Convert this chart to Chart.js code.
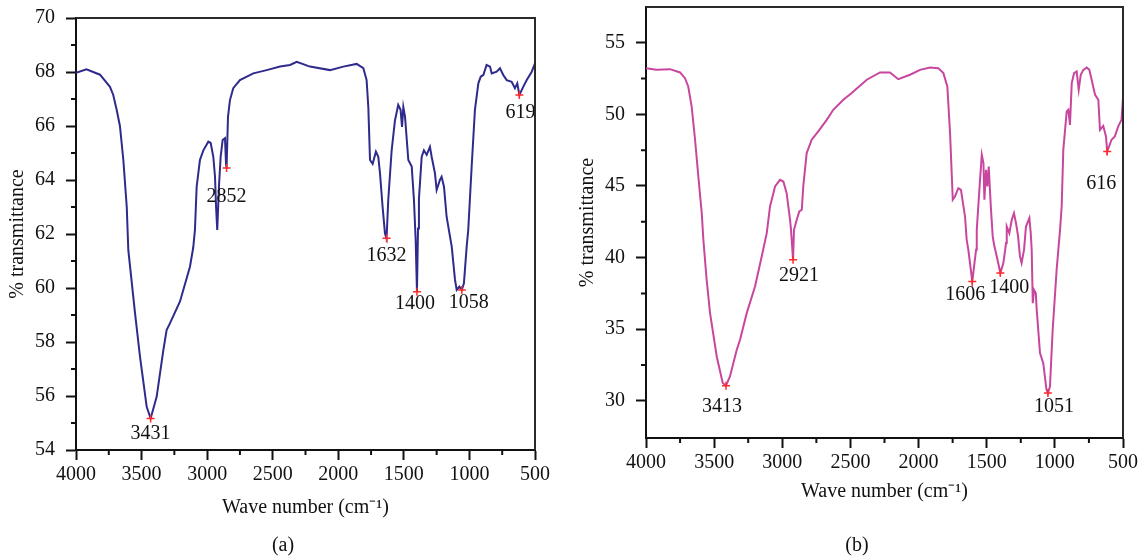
<!DOCTYPE html>
<html>
<head>
<meta charset="utf-8">
<script src="https://cdn.jsdelivr.net/npm/chart.js@4"></script>
<style>
  body { margin: 0; background: #fff; }
  canvas { position: absolute; top: 0; }
  #chart-a { left: 0; }
  #chart-b { left: 570px; }
</style>
</head>
<body>
<canvas id="chart-a" width="566" height="560"></canvas>
<canvas id="chart-b" width="574" height="560"></canvas>
<script>
// Espectros FTIR (a) e (b)

const waveA = [4000, 3920, 3817, 3741, 3716, 3690, 3665, 3639, 3613, 3601, 3550, 3512, 3461, 3431, 3385, 3334, 3309, 3283, 3207, 3131,
  3106, 3093, 3080, 3055, 3029, 2991, 2973, 2953, 2940, 2932, 2923, 2910, 2897, 2882, 2864, 2856, 2852, 2841, 2826, 2801,
  2750, 2648, 2546, 2444, 2368, 2317, 2216, 2063, 1962, 1860, 1809, 1784, 1771, 1758, 1738, 1713, 1695, 1682, 1662, 1644,
  1632, 1619, 1593, 1568, 1543, 1525, 1514, 1504, 1491, 1466, 1440, 1423, 1410, 1400, 1392, 1385, 1364, 1347, 1326, 1301,
  1288, 1263, 1250, 1225, 1212, 1194, 1174, 1148, 1135, 1110, 1097, 1077, 1058, 1042, 1021, 1009, 983, 958, 932, 914,
  894, 869, 843, 830, 792, 767, 742, 716, 678, 653, 635, 619, 589, 563, 525, 500];
const transA = [67.97, 68.1, 67.9, 67.45, 67.15, 66.6, 66.0, 64.74, 63.0, 61.4, 59.07, 57.46, 55.6, 55.17, 55.97, 57.7, 58.44, 58.7, 59.5, 60.79,
  61.5, 62.15, 63.75, 64.74, 65.1, 65.42, 65.37, 64.86, 64.12, 63.0, 62.15, 63.75, 64.86, 65.48, 65.55, 64.6, 64.44, 66.34, 66.96, 67.4,
  67.7, 67.95, 68.07, 68.2, 68.26, 68.38, 68.2, 68.07, 68.2, 68.3, 68.14, 67.7, 66.7, 64.74, 64.6, 65.05, 64.86, 64.25, 63.0, 62.02,
  61.84, 63.26, 65.1, 66.2, 66.78, 66.6, 65.97, 66.7, 66.34, 64.74, 64.5, 63.26, 61.78, 59.86, 62.2, 63.3, 64.86, 65.1, 64.93, 65.23,
  64.86, 64.25, 63.63, 64.0, 64.12, 63.75, 62.64, 61.9, 61.53, 60.3, 59.93, 60.05, 59.93, 60.17, 61.53, 62.15, 64.5, 66.6, 67.58, 67.83,
  67.89, 68.26, 68.2, 67.95, 68.01, 68.14, 67.89, 67.7, 67.64, 67.4, 67.58, 67.15, 67.46, 67.7, 68.01, 68.32];
const picosA = [3431, 2852, 1632, 1400, 1058, 619];
const picosTransA = [55.17, 64.44, 61.84, 59.86, 59.93, 67.15];

const waveB = [4000, 3922, 3824, 3750, 3714, 3690, 3665, 3640, 3616, 3591, 3579, 3555, 3530, 3481, 3437, 3413, 3384, 3334, 3310, 3261,
  3200, 3151, 3114, 3090, 3053, 3017, 2992, 2968, 2943, 2936, 2921, 2914, 2894, 2875, 2857, 2846, 2821, 2784, 2736, 2674,
  2626, 2552, 2491, 2430, 2380, 2283, 2210, 2149, 2063, 1989, 1916, 1855, 1818, 1789, 1769, 1749, 1733, 1708, 1689, 1659,
  1647, 1635, 1606, 1578, 1573, 1549, 1536, 1524, 1517, 1505, 1495, 1485, 1470, 1456, 1446, 1426, 1400, 1378, 1358, 1353,
  1334, 1316, 1300, 1285, 1270, 1256, 1244, 1226, 1212, 1187, 1177, 1170, 1162, 1153, 1140, 1133, 1109, 1085, 1062, 1051,
  1036, 1016, 987, 962, 950, 938, 913, 901, 889, 876, 859, 840, 825, 810, 791, 766, 747, 730, 705, 681,
  669, 645, 625, 616, 584, 560, 535, 511, 500];
const transB = [53.23, 53.11, 53.16, 52.93, 52.53, 51.95, 50.55, 48.23, 45.66, 43.1, 41.24, 38.45, 36.12, 33.09, 31.24, 31.05, 31.7, 33.56, 34.26, 36.12,
  37.98, 40.08, 41.71, 43.57, 44.97, 45.43, 45.31, 44.5, 42.64, 41.94, 39.85, 41.94, 42.64, 43.22, 43.34, 44.97, 47.3, 48.23, 48.81, 49.62,
  50.32, 51.02, 51.49, 52.0, 52.42, 52.93, 52.93, 52.46, 52.77, 53.11, 53.28, 53.23, 52.88, 51.95, 48.7, 44.04, 44.27, 44.85, 44.73, 42.87,
  41.24, 40.55, 38.33, 40.55, 41.94, 45.43, 47.18, 46.6, 44.04, 46.13, 44.97, 46.36, 43.57, 41.48, 40.9, 40.08, 38.92, 39.62, 41.01, 42.17,
  41.71, 42.64, 43.1, 42.41, 41.5, 40.08, 39.62, 40.55, 42.17, 42.76, 41.71, 40.55, 36.82, 37.75, 37.52, 36.35, 33.33, 32.63, 30.8, 30.54,
  31.0, 34.96, 39.15, 41.94, 43.57, 47.53, 50.2, 50.32, 49.27, 52.19, 52.88, 53.0, 51.72, 52.77, 53.11, 53.28, 53.11, 52.42, 51.37, 51.02,
  48.92, 49.2, 48.46, 47.41, 48.23, 48.46, 49.16, 49.62, 51.14];
const picosB = [3413, 2921, 1606, 1400, 1051, 616];
const picosTransB = [31.05, 39.85, 38.33, 38.92, 30.54, 47.41];

// deslocamento dos rótulos dos picos (px)
const rotuloDxA = [0, 0, 0, -2, 7, 1];
const rotuloDyA = [15, 29, 17, 12, 13, 18];
const rotuloDxB = [-4, 6, -7, 9, 6, -6];
const rotuloDyB = [21, 16, 13, 15, 14, 32];

Chart.defaults.font.family = "'Liberation Serif', 'Times New Roman', serif";
Chart.defaults.font.size = 20;
Chart.defaults.color = '#111';

// moldura (topo e direita) + ticks menores + legenda do painel
const molduraPlugin = {
    id: 'moldura',
    afterDraw(chart, args, opts) {
        const { ctx, chartArea: a, scales } = chart;
        ctx.save();
        ctx.strokeStyle = '#2a2a2a';
        ctx.lineWidth = 2;
        ctx.beginPath();
        ctx.moveTo(a.left, a.top);
        ctx.lineTo(a.right, a.top);
        ctx.lineTo(a.right, a.bottom);
        ctx.stroke();

        ctx.strokeStyle = '#111';
        ctx.lineWidth = 2;
        ctx.beginPath();
        const xt = scales.x.ticks;
        for (let i = 0; i < xt.length - 1; i++) {
            const px = scales.x.getPixelForValue((xt[i].value + xt[i + 1].value) / 2);
            ctx.moveTo(px, a.bottom);
            ctx.lineTo(px, a.bottom + 5);
        }
        const yt = scales.y.ticks;
        for (let i = 0; i < yt.length - 1; i++) {
            const py = scales.y.getPixelForValue((yt[i].value + yt[i + 1].value) / 2);
            ctx.moveTo(a.left, py);
            ctx.lineTo(a.left - 5, py);
        }
        ctx.stroke();

        // (a) / (b) centrado no canvas
        ctx.font = "20px 'Liberation Serif', serif";
        ctx.fillStyle = '#111';
        ctx.textAlign = 'center';
        ctx.textBaseline = 'middle';
        ctx.fillText(opts.texto, chart.width / 2, chart.height - 14);
        ctx.restore();
    }
};

// rótulos numéricos dos picos
const rotulosPlugin = {
    id: 'rotulos',
    afterDatasetsDraw(chart, args, opts) {
        const meta = chart.getDatasetMeta(1);
        const ctx = chart.ctx;
        ctx.save();
        ctx.font = "20px 'Liberation Serif', serif";
        ctx.fillStyle = '#111';
        ctx.textAlign = 'center';
        ctx.textBaseline = 'middle';
        meta.data.forEach((pt, i) => {
            ctx.fillText(String(opts.textos[i]), pt.x + opts.dx[i], pt.y + opts.dy[i]);
        });
        ctx.restore();
    }
};

function criarGrafico(id, cfg) {
    const ctx = document.getElementById(id).getContext('2d');
    const eixo = {
        grid: { display: true, drawOnChartArea: false, drawTicks: true, tickLength: 10, tickWidth: 2, tickColor: '#111' },
        border: { display: true, color: '#111', width: 2 }
    };
    return new Chart(ctx, {
        type: 'line',
        data: {
            datasets: [
                {
                    data: cfg.wave.map((x, i) => ({ x: x, y: cfg.trans[i] })),
                    borderColor: cfg.cor,
                    borderWidth: 2,
                    pointRadius: 0,
                    tension: 0,
                    order: 2
                },
                {
                    data: cfg.picos.map((x, i) => ({ x: x, y: cfg.picosTrans[i] })),
                    showLine: false,
                    pointStyle: 'cross',
                    pointRadius: 4,
                    borderColor: '#ff2a2a',
                    borderWidth: 1.5,
                    order: 1
                }
            ]
        },
        options: {
            responsive: false,
            animation: false,
            events: [],
            layout: { padding: { top: cfg.padTop, right: cfg.padRight, left: 0, bottom: 26 } },
            plugins: {
                legend: { display: false },
                tooltip: { enabled: false },
                title: { display: false },
                moldura: { texto: cfg.legenda },
                rotulos: { textos: cfg.picos, dx: cfg.dx, dy: cfg.dy }
            },
            scales: {
                x: {
                    type: 'linear',
                    reverse: true,
                    min: 500,
                    max: 4000,
                    ticks: { stepSize: 500, padding: 3, maxRotation: 0, callback: v => String(v) },
                    grid: eixo.grid,
                    border: eixo.border,
                    title: { display: true, text: 'Wave number (cm⁻¹)', padding: { top: 0, bottom: cfg.xTitlePad } },
                    afterFit: s => { s.height = cfg.xHeight; s.paddingLeft = 0; s.paddingRight = 0; }
                },
                y: {
                    min: cfg.yMin,
                    max: cfg.yMax,
                    ticks: { stepSize: cfg.yStep, includeBounds: false, padding: 11 },
                    grid: eixo.grid,
                    border: eixo.border,
                    title: { display: true, text: '% transmittance', padding: { top: 6, bottom: 0 } },
                    afterFit: s => { s.width = 76; s.paddingTop = 0; s.paddingBottom = 0; }
                }
            }
        },
        plugins: [molduraPlugin, rotulosPlugin]
    });
}

window.chartA = criarGrafico('chart-a', {
    wave: waveA, trans: transA, picos: picosA, picosTrans: picosTransA,
    dx: rotuloDxA, dy: rotuloDyA, cor: '#2f2b8c', legenda: '(a)',
    yMin: 54, yMax: 70, yStep: 2,
    padTop: 18, padRight: 31, xHeight: 84, xTitlePad: 14
});

window.chartB = criarGrafico('chart-b', {
    wave: waveB, trans: transB, picos: picosB, picosTrans: picosTransB,
    dx: rotuloDxB, dy: rotuloDyB, cor: '#c8469e', legenda: '(b)',
    yMin: 27.4, yMax: 57.5, yStep: 5,
    padTop: 7, padRight: 21, xHeight: 96, xTitlePad: 30
});
</script>
</body>
</html>
